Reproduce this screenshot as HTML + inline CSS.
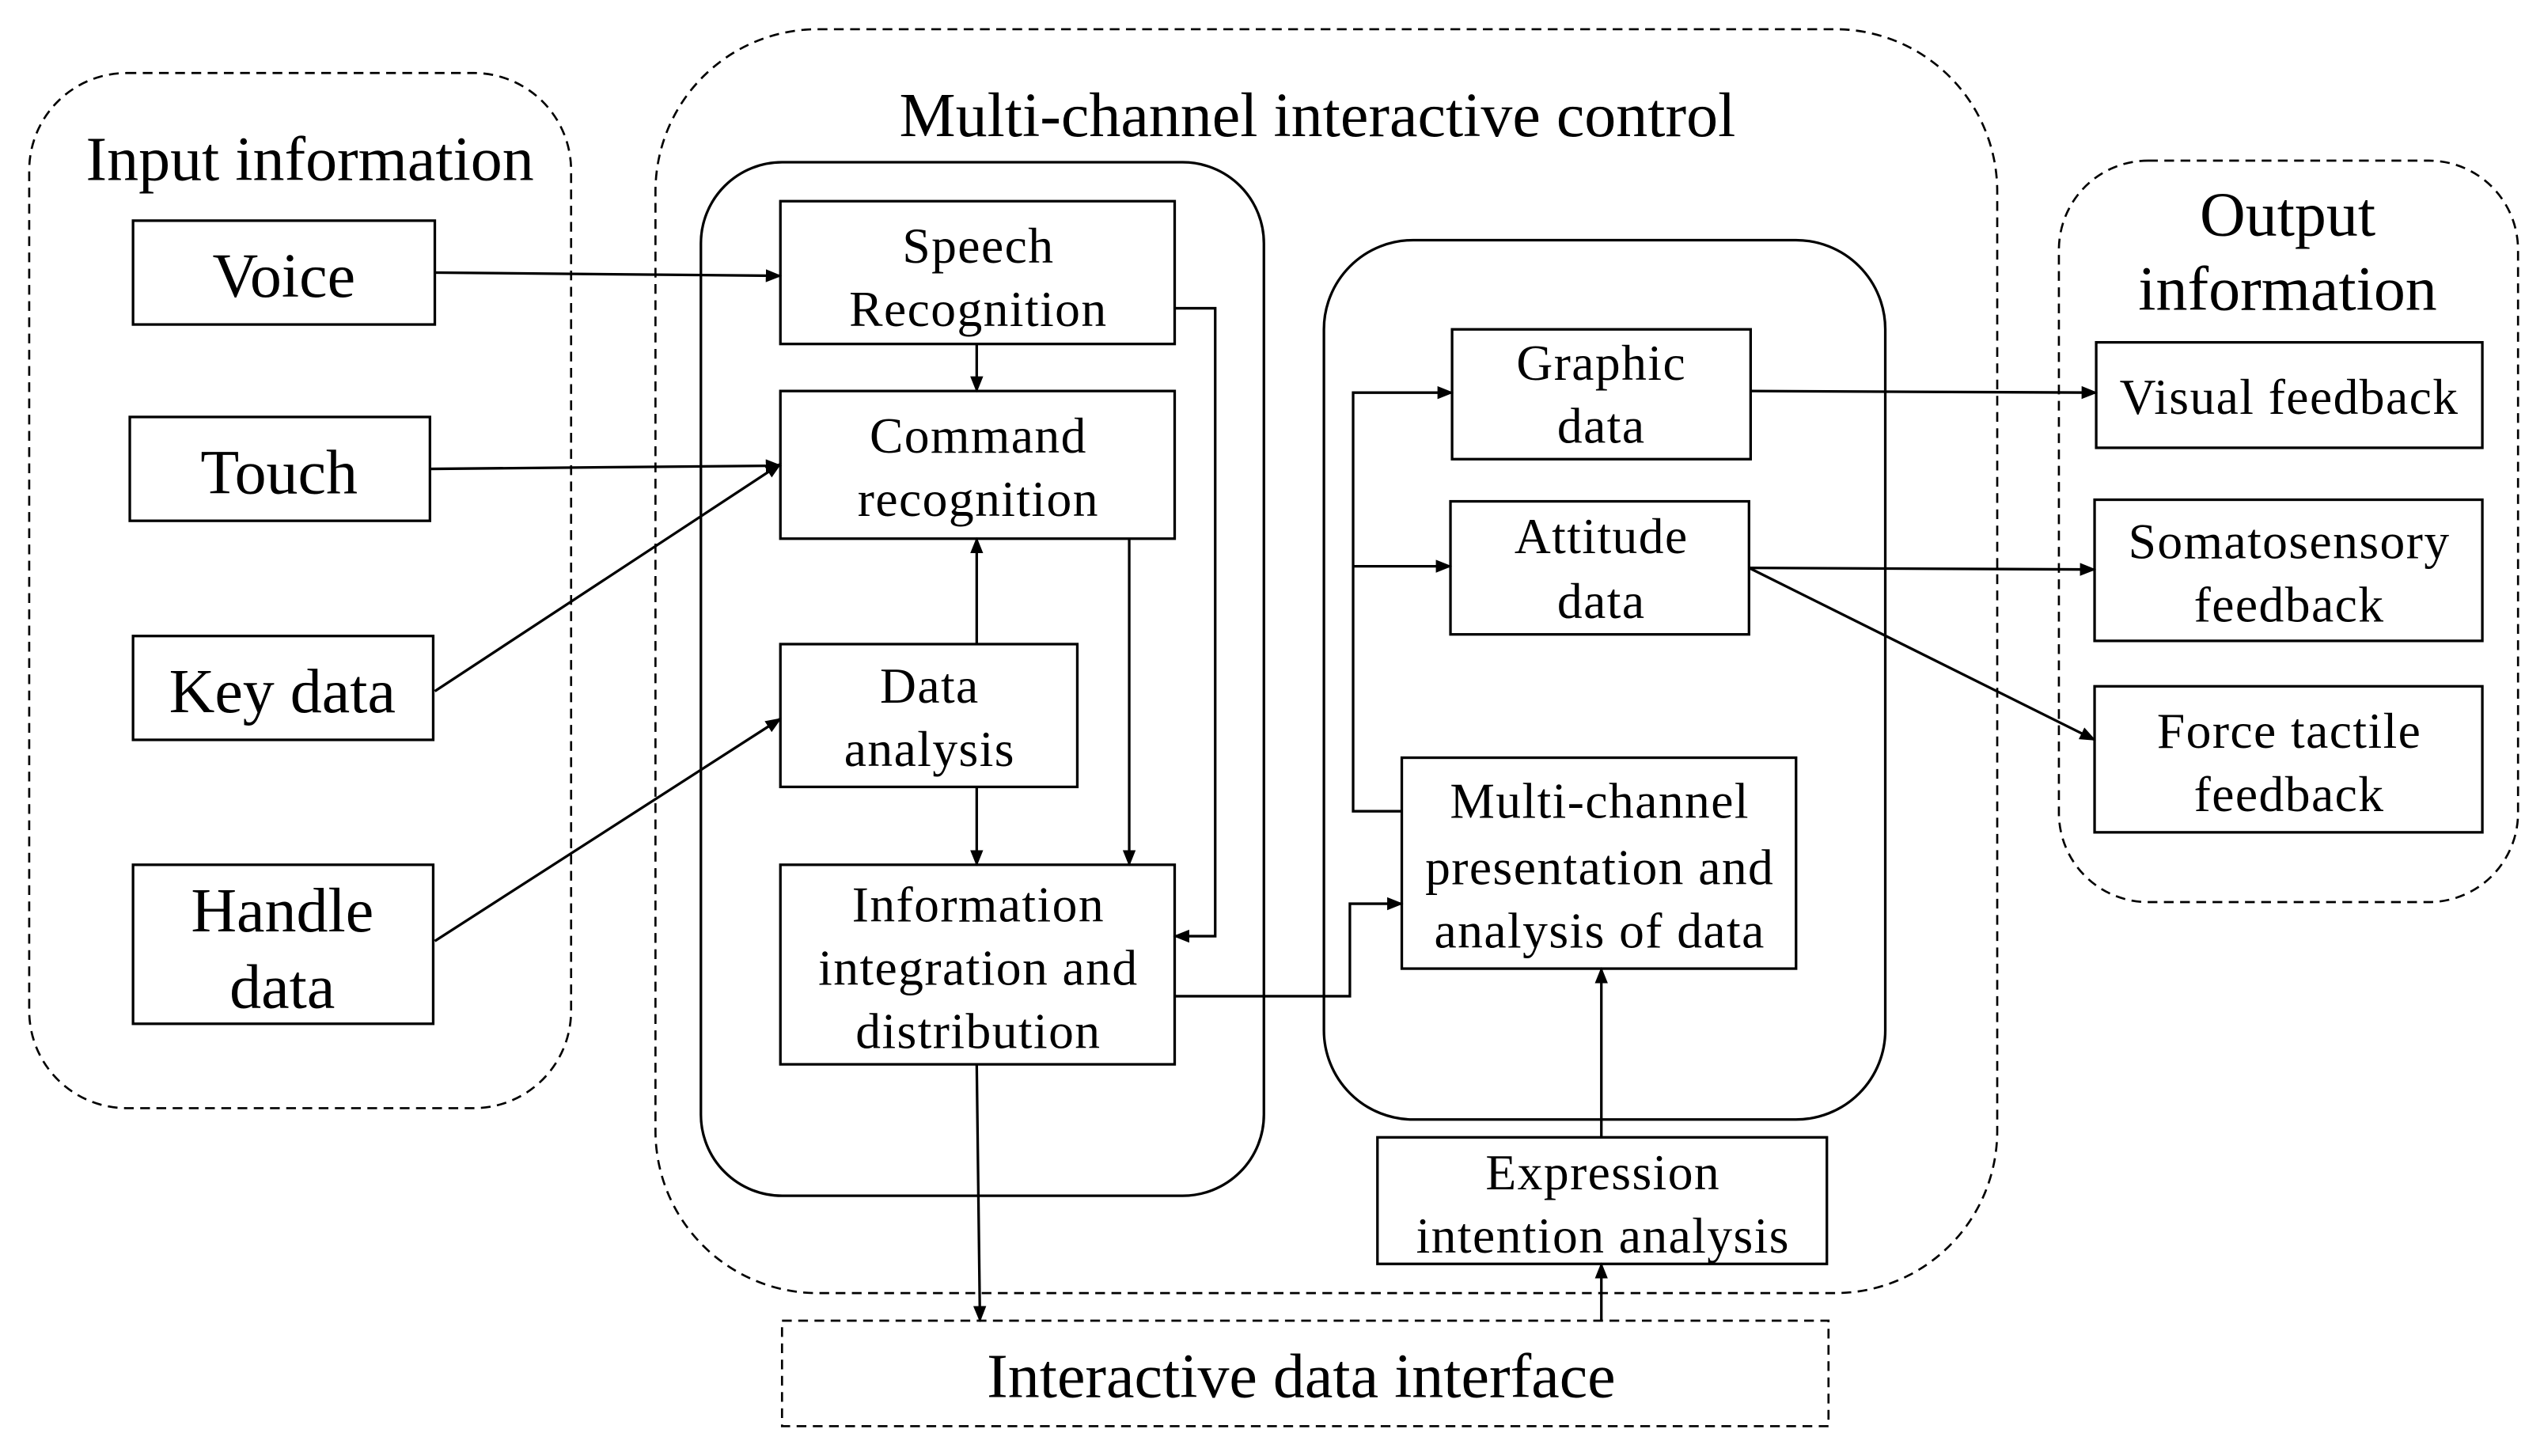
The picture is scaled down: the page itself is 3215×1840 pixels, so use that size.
<!DOCTYPE html>
<html><head><style>html,body{margin:0;padding:0;background:#fff}svg{display:block}</style></head><body>
<svg width="3215" height="1840" viewBox="0 0 1568 897.4" preserveAspectRatio="none" xmlns="http://www.w3.org/2000/svg" font-family="'Liberation Serif', serif" fill="#000">
<defs><marker id="a" markerWidth="10" markerHeight="8" refX="9" refY="4" orient="auto" markerUnits="userSpaceOnUse"><path d="M0,0 L10,4 L0,8 z"/></marker></defs>
<g fill="none" stroke="#000" stroke-width="1.3" stroke-dasharray="6,4">
<rect x="18" y="45" width="334" height="638" rx="60"/>
<rect x="404" y="18" width="827" height="779" rx="100"/>
<rect x="1269" y="99" width="283" height="457" rx="55"/>
<rect x="482" y="814" width="645" height="65"/>
</g>
<g fill="none" stroke="#000" stroke-width="1.6">
<rect x="432" y="100" width="347" height="637" rx="50"/>
<rect x="816" y="148" width="346" height="542" rx="55"/>
<rect x="82" y="136" width="186" height="64"/>
<rect x="80" y="257" width="185" height="64"/>
<rect x="82" y="392" width="185" height="64"/>
<rect x="82" y="533" width="185" height="98"/>
<rect x="481" y="124" width="243" height="88"/>
<rect x="481" y="241" width="243" height="91"/>
<rect x="481" y="397" width="183" height="88"/>
<rect x="481" y="533" width="243" height="123"/>
<rect x="895" y="203" width="184" height="80"/>
<rect x="894" y="309" width="184" height="82"/>
<rect x="864" y="467" width="243" height="130"/>
<rect x="849" y="701" width="277" height="78"/>
<rect x="1292" y="211" width="238" height="65"/>
<rect x="1291" y="308" width="239" height="87"/>
<rect x="1291" y="423" width="239" height="90"/>
</g>
<g fill="none" stroke="#000" stroke-width="1.6" marker-end="url(#a)">
<path d="M268,168 L481,170"/>
<path d="M265,289 L481,287"/>
<path d="M268,426 L481,286"/>
<path d="M268,580 L481,443"/>
<path d="M602,212 L602,241"/>
<path d="M724,190 L749,190 L749,577 L724,577"/>
<path d="M696,332 L696,533"/>
<path d="M602,397 L602,332"/>
<path d="M602,485 L602,533"/>
<path d="M724,614 L832,614 L832,557 L864,557"/>
<path d="M602,656 L604,814"/>
<path d="M864,500 L834,500 L834,242 L895,242"/>
<path d="M834,349 L894,349"/>
<path d="M1079,241 L1292,242"/>
<path d="M1078,350 L1291,351"/>
<path d="M1078,350 L1291,456"/>
<path d="M987,701 L987,597"/>
<path d="M987,814 L987,779"/>
</g>
<g text-anchor="middle" font-size="39">
<text x="191" y="111">Input information</text>
<text x="812" y="84">Multi-channel interactive control</text>
<text x="1410" y="145">Output</text>
<text x="1410" y="191">information</text>
<text x="802" y="861">Interactive data interface</text>
<text x="175" y="183">Voice</text>
<text x="172" y="304">Touch</text>
<text x="174" y="439">Key data</text>
<text x="174" y="574">Handle</text>
<text x="174" y="621">data</text>
</g>
<g text-anchor="middle" font-size="31" letter-spacing="0.7">
<text x="603" y="162">Speech</text>
<text x="603" y="201">Recognition</text>
<text x="603" y="279">Command</text>
<text x="603" y="318">recognition</text>
<text x="573" y="433">Data</text>
<text x="573" y="472">analysis</text>
<text x="603" y="568">Information</text>
<text x="603" y="607">integration and</text>
<text x="603" y="646">distribution</text>
<text x="987" y="234">Graphic</text>
<text x="987" y="273">data</text>
<text x="987" y="341">Attitude</text>
<text x="987" y="381">data</text>
<text x="986" y="504">Multi-channel</text>
<text x="986" y="545">presentation and</text>
<text x="986" y="584">analysis of data</text>
<text x="988" y="733">Expression</text>
<text x="988" y="772">intention analysis</text>
<text x="1411" y="255">Visual feedback</text>
<text x="1411" y="344">Somatosensory</text>
<text x="1411" y="383">feedback</text>
<text x="1411" y="461">Force tactile</text>
<text x="1411" y="500">feedback</text>
</g>
</svg>
</body></html>
